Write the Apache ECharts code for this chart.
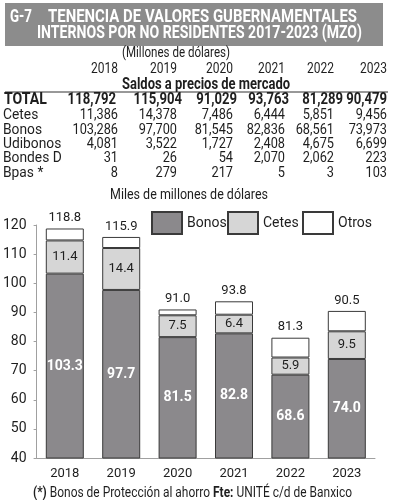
<!DOCTYPE html>
<html>
<head>
<meta charset="utf-8">
<script src="https://cdn.jsdelivr.net/npm/echarts@6/dist/echarts.min.js"></script>
<style>
  html,body{margin:0;padding:0;background:#fff;}
  #main{width:397px;height:500px;}
</style>
</head>
<body>
<div id="main"></div>
<script>
// tabla (millones de dólares)
const years = ['2018', '2019', '2020', '2021', '2022', '2023'];
const totalRow = [118792, 115904, 91029, 93763, 81289, 90479];
const cetesRow = [11386, 14378, 7486, 6444, 5851, 9456];
const bonosRow = [103286, 97700, 81545, 82836, 68561, 73973];
const udibonosRow = [4081, 3522, 1727, 2408, 4675, 6699];
const bondesRow = [31, 26, 54, 2070, 2062, 223];
const bpasRow = [8, 279, 217, 5, 3, 103];

// grafica (miles de millones de dólares)
const bonosBar = [103.3, 97.7, 81.5, 82.8, 68.6, 74.0];
const cetesBar = [11.4, 14.4, 7.5, 6.4, 5.9, 9.5];
const totalBar = [118.8, 115.9, 91.0, 93.8, 81.3, 90.5];
const otrosBar = totalBar.map((t, i) => +(t - bonosBar[i] - cetesBar[i]).toFixed(1));

const FONT = 'Roboto, "DejaVu Sans", sans-serif';
const DARK = '#1e1e1e';

const fmt = n => n.toLocaleString('en-US');

let chart = echarts.init(document.getElementById('main'));

//medir texto para comprimir (la fuente original es condensada)
const ctx = document.createElement('canvas').getContext('2d');
function fit(text, font, w) {
  ctx.font = font;
  return w / ctx.measureText(text).width;
}

//columnas de la tabla
const colX = [118, 177, 233, 285, 334, 387];
const totalX = [116, 182, 237, 289, 343, 387];

function txt(text, x, y, size, opt) {
  opt = opt || {};
  let font = (opt.bold ? 'bold ' : '') + size + 'px ' + FONT;
  let sx = opt.sx || 1;
  if (opt.w) sx = fit(text, font, opt.w);
  return {
    type: 'text', x: x, y: y, scaleX: sx,
    style: {
      text: text,
      font: font,
      fill: opt.fill || DARK,
      align: opt.align || 'left',
      verticalAlign: 'middle'
    }
  };
}

let graphic = [
  {type: 'rect', shape: {x: 5, y: 3, width: 378, height: 43}, style: {fill: '#8c8c8c'}},
  txt('G-7', 10, 17, 18, {bold: true, fill: '#fff', w: 22}),
  txt('TENENCIA DE VALORES GUBERNAMENTALES', 48, 17, 18, {bold: true, fill: '#fff', w: 309}),
  txt('INTERNOS POR NO RESIDENTES 2017-2023 (MZO)', 37, 33, 18, {bold: true, fill: '#fff', w: 325}),
  txt('(Millones de dólares)', 122, 53, 15, {w: 108}),
  txt('Saldos a precios de mercado', 122, 85, 16, {bold: true, w: 168}),
  {type: 'line', shape: {x1: 5, y1: 92, x2: 388, y2: 92}, style: {stroke: '#333', lineWidth: 1}},
  txt('Miles de millones de dólares', 110, 195, 15, {w: 158})
];

years.forEach((y, i) => graphic.push(txt(y, colX[i], 69, 15, {align: 'right', sx: 0.8})));

const rows = [
  ['Cetes', cetesRow, 115],
  ['Bonos', bonosRow, 130],
  ['Udibonos', udibonosRow, 144],
  ['Bondes D', bondesRow, 158],
  ['Bpas *', bpasRow, 173]
];
graphic.push(txt('TOTAL', 4, 100, 16, {bold: true, sx: 0.88}));
totalRow.forEach((v, i) => graphic.push(txt(fmt(v), totalX[i], 100, 16, {bold: true, align: 'right', sx: 0.82})));
rows.forEach(r => {
  graphic.push(txt(r[0], 3, r[2], 15, {sx: 0.92}));
  r[1].forEach((v, i) => graphic.push(txt(fmt(v), colX[i], r[2], 15, {align: 'right', sx: 0.85})));
});

const footFont = '14px ' + FONT;
graphic.push({
  type: 'text', x: 33, y: 493,
  scaleX: fit('(*) Bonos de Protección al ahorro Fte: UNITÉ c/d de Banxico', footFont, 318),
  style: {
    text: '{b|(*)} Bonos de Protección al ahorro {b|Fte:} UNITÉ c/d de Banxico',
    font: footFont, fill: DARK, align: 'left', verticalAlign: 'middle',
    rich: {b: {font: 'bold 14px ' + FONT, fill: DARK}}
  }
});

function legendItem(name, left) {
  return {
    data: [name], left: left, top: 206,
    itemWidth: 30, itemHeight: 22, itemGap: 0,
    icon: 'rect',
    textStyle: {fontFamily: FONT, fontSize: 14, color: DARK, padding: [0, 0, 6, 0]},
    selectedMode: false
  };
}

let option = {
  animation: false,
  graphic: graphic,
  legend: [legendItem('Bonos', 146), legendItem('Cetes', 222), legendItem('Otros', 297)],
  grid: {left: 33, right: 22, top: 225, bottom: 42},
  xAxis: {
    type: 'category',
    data: years,
    axisLine: {lineStyle: {color: '#a0a0a0'}},
    axisTick: {length: 4, lineStyle: {color: '#a0a0a0'}},
    axisLabel: {color: DARK, fontFamily: FONT, fontSize: 13, margin: 9}
  },
  yAxis: {
    type: 'value', min: 40, max: 120, interval: 10,
    splitLine: {show: false},
    axisLine: {show: true, lineStyle: {color: '#a0a0a0'}},
    axisTick: {show: true, length: 3, lineStyle: {color: '#a0a0a0'}},
    axisLabel: {color: DARK, fontFamily: FONT, fontSize: 14, margin: 10}
  },
  series: [
    {
      name: 'Bonos', type: 'bar', stack: 'tot', barWidth: 38, data: bonosBar,
      itemStyle: {color: '#8b898c', borderColor: '#3a3a3a', borderWidth: 1},
      label: {show: true, position: 'inside', color: '#fff', fontWeight: 'bold', fontFamily: FONT, fontSize: 14,
        formatter: p => p.value.toFixed(1)}
    },
    {
      name: 'Cetes', type: 'bar', stack: 'tot', barWidth: 38, data: cetesBar,
      itemStyle: {color: '#d6d6d6', borderColor: '#3a3a3a', borderWidth: 1},
      label: {show: true, position: 'inside', color: DARK, fontFamily: FONT, fontSize: 13,
        formatter: p => p.value.toFixed(1)}
    },
    {
      name: 'Otros', type: 'bar', stack: 'tot', barWidth: 38, data: otrosBar,
      itemStyle: {color: '#ffffff', borderColor: '#3a3a3a', borderWidth: 1},
      label: {show: true, position: 'top', distance: 4, color: DARK, fontFamily: FONT, fontSize: 13,
        formatter: p => totalBar[p.dataIndex].toFixed(1)}
    }
  ]
};

chart.setOption(option);
</script>
</body>
</html>
